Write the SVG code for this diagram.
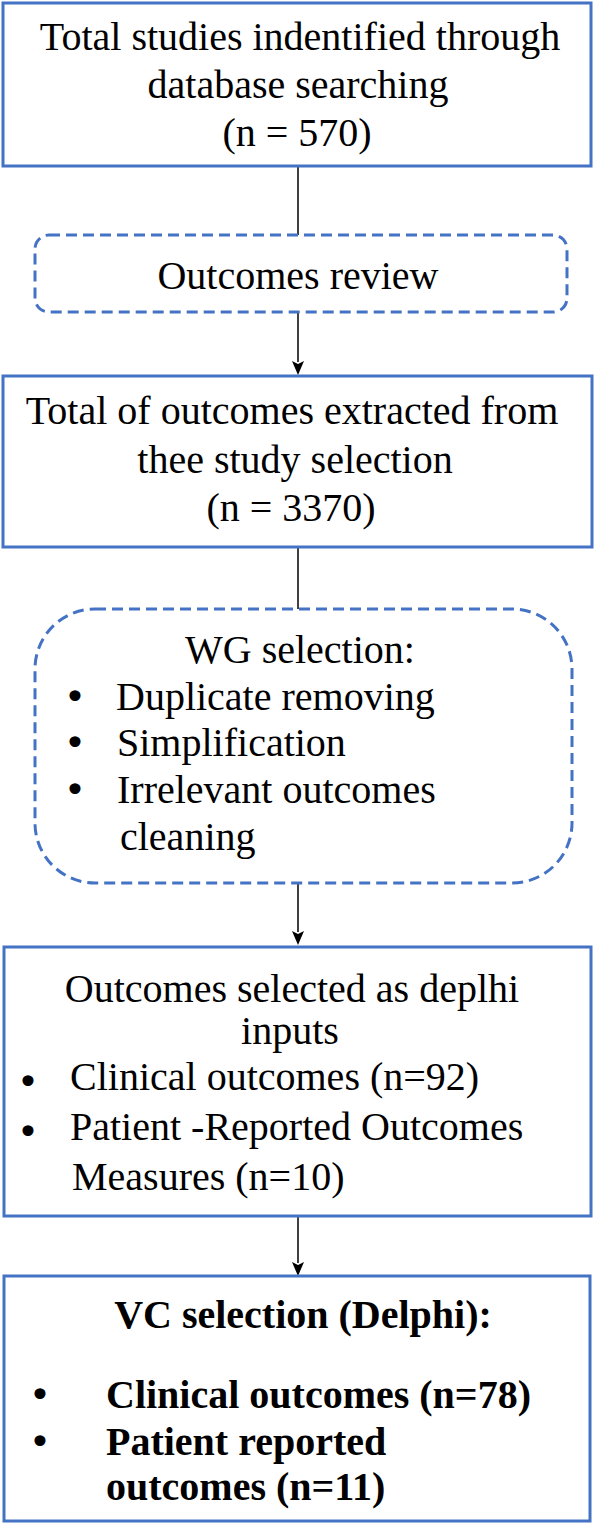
<svg xmlns="http://www.w3.org/2000/svg" width="594" height="1524" viewBox="0 0 594 1524">
<style>
.box{fill:#fff;stroke:#4472C4;stroke-width:3}
.dash{fill:#fff;stroke:#4472C4;stroke-width:3;stroke-dasharray:11 6}
text{font-family:"Liberation Serif","Times New Roman",serif;font-size:40px;fill:#000}
.c{text-anchor:middle}
.b{font-weight:bold}
.bu{font-family:"DejaVu Sans",sans-serif;font-size:38px;font-weight:normal;text-anchor:middle}
.ln{stroke:#000;stroke-width:1.5;fill:none}
</style>
<rect width="594" height="1524" fill="#fff"/>
<g id="connectors">
<line class="ln" x1="298" y1="167" x2="298" y2="235"/>
<line class="ln" x1="298" y1="312" x2="298" y2="362"/>
<path d="M292,361 L298,364 L304,361 L298,375 z" fill="#000"/>
<line class="ln" x1="298" y1="548" x2="298" y2="609"/>
<line class="ln" x1="298" y1="884" x2="298" y2="932"/>
<path d="M292,931 L298,934 L304,931 L298,945 z" fill="#000"/>
<line class="ln" x1="298" y1="1217" x2="298" y2="1263"/>
<path d="M292,1262 L298,1265 L304,1262 L298,1276 z" fill="#000"/>
</g>
<g id="n1">
<rect class="box" x="3" y="3" width="588" height="163"/>
<text class="c" x="300" y="50">Total studies indentified through</text>
<text class="c" x="298" y="98">database searching</text>
<text class="c" x="297" y="146">(n = 570)</text>
</g>
<g id="n2">
<rect class="dash" x="35" y="235" width="532" height="77" rx="14"/>
<text class="c" x="298" y="289">Outcomes review</text>
</g>
<g id="n3">
<rect class="box" x="3" y="376" width="589" height="171"/>
<text class="c" x="292" y="424">Total of outcomes extracted from</text>
<text class="c" x="295" y="473">thee study selection</text>
<text class="c" x="291" y="521">(n = 3370)</text>
</g>
<g id="n4">
<rect class="dash" x="35" y="609" width="537" height="274" rx="60"/>
<text class="c" x="300" y="663">WG selection:</text>
<text y="710"><tspan class="bu" x="75">•</tspan><tspan x="116">Duplicate removing</tspan></text>
<text y="756"><tspan class="bu" x="75">•</tspan><tspan x="117">Simplification</tspan></text>
<text y="803"><tspan class="bu" x="75">•</tspan><tspan x="117">Irrelevant outcomes</tspan></text>
<text x="120" y="850">cleaning</text>
</g>
<g id="n5">
<rect class="box" x="4" y="947" width="587" height="269"/>
<text class="c" x="292" y="1002">Outcomes selected as deplhi</text>
<text class="c" x="290" y="1044">inputs</text>
<text y="1090"><tspan class="bu" x="28" dy="5">•</tspan><tspan x="70" dy="-5">Clinical outcomes (n=92)</tspan></text>
<text y="1140"><tspan class="bu" x="28" dy="5">•</tspan><tspan x="70" dy="-5">Patient -Reported Outcomes</tspan></text>
<text x="72" y="1190">Measures (n=10)</text>
</g>
<g id="n6">
<rect class="box" x="4" y="1276" width="586" height="245"/>
<text class="c b" x="303" y="1328">VC selection (Delphi):</text>
<text class="b" y="1408"><tspan class="bu" x="40">•</tspan><tspan x="106">Clinical outcomes (n=78)</tspan></text>
<text class="b" y="1455"><tspan class="bu" x="40">•</tspan><tspan x="106">Patient reported</tspan></text>
<text class="b" x="106" y="1500">outcomes (n=11)</text>
</g>
</svg>
